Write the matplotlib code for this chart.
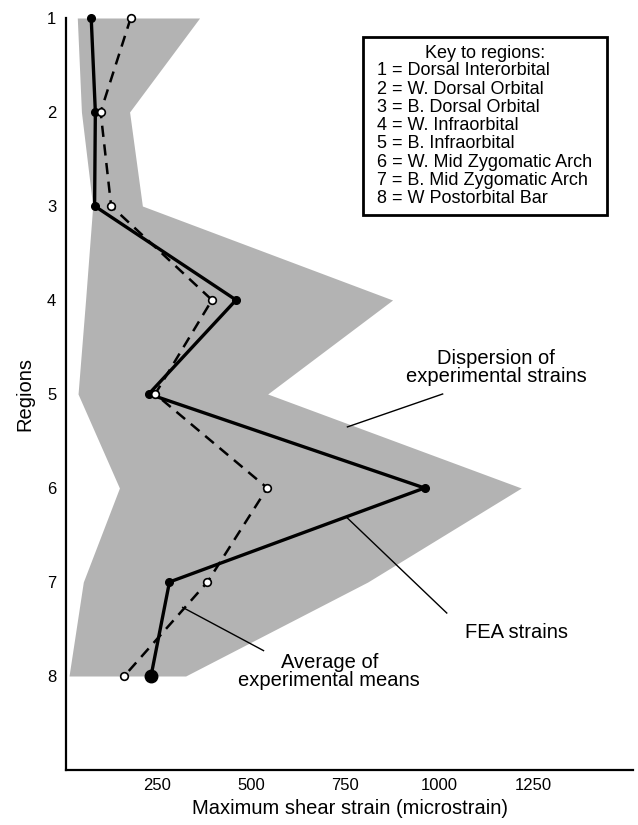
import matplotlib
matplotlib.use("Agg")
import matplotlib.pyplot as plt
from matplotlib.patches import Rectangle

plt.rcParams["font.family"] = ["Liberation Sans", "DejaVu Sans"]

regions = [1, 2, 3, 4, 5, 6, 7, 8]
fea = [75, 86, 84, 460, 228, 961, 283, 234]
avg_means = [180, 100, 128, 396, 245, 543, 384, 163]
disp_lo = [38, 49, 79, 60, 40, 150, 54, 16]
disp_hi = [363, 177, 211, 876, 544, 1218, 810, 326]
xticks = [250, 500, 750, 1000, 1250]
key_title = "Key to regions:"
key_lines = ["1 = Dorsal Interorbital", "2 = W. Dorsal Orbital", "3 = B. Dorsal Orbital",
             "4 = W. Infraorbital", "5 = B. Infraorbital", "6 = W. Mid Zygomatic Arch",
             "7 = B. Mid Zygomatic Arch", "8 = W Postorbital Bar"]

W, H = 638, 825
fig = plt.figure(figsize=(W / 100, H / 100), dpi=100)
ax = fig.add_axes([66 / W, 1 - 770 / H, 567 / W, 752 / H])


def px(x, y):
    # figure pixel (from top-left) -> figure fraction
    return x / W, 1 - y / H


ax.fill_betweenx(regions, disp_lo, disp_hi, color="#b3b3b3", lw=0, zorder=1)
ax.plot(fea, regions, "-", color="black", lw=2.4, marker="o", ms=5.5,
        mfc="black", mec="black", zorder=3, clip_on=False)
ax.plot(fea[-1], regions[-1], "o", color="black", ms=9, zorder=3, clip_on=False)
ax.plot(avg_means, regions, color="black", lw=1.8, ls=(0, (4.5, 3)), marker="o", ms=5.5,
        mfc="white", mec="black", mew=1.2, zorder=4, clip_on=False)

ax.set_xlim(8, 1515)
ax.set_ylim(9, 1)
ax.set_xticks(xticks)
ax.set_yticks(regions)
ax.tick_params(length=0, labelsize=12)
ax.tick_params(axis="x", pad=6)
ax.tick_params(axis="y", pad=7)
for s in ["top", "right"]:
    ax.spines[s].set_visible(False)
for s in ["left", "bottom"]:
    ax.spines[s].set_linewidth(1.6)
ax.set_ylabel("Regions", fontsize=14.5, labelpad=9)
ax.set_xlabel("Maximum shear strain (microstrain)", fontsize=14.5, labelpad=4)

# key box
x0, y0 = px(363, 215)
x1, y1 = px(607, 37)
fig.patches.append(Rectangle((x0, y0), x1 - x0, y1 - y0, transform=fig.transFigure,
                             fc="white", ec="black", lw=2, zorder=5))
fig.text(*px(485, 53), key_title, ha="center", va="center", fontsize=13, zorder=6)
for i, line in enumerate(key_lines):
    fig.text(*px(377, 70.7 + i * 18.3), line, ha="left", va="center", fontsize=13, zorder=6)

ax.text(1152, 4.72, "Dispersion of\nexperimental strains", ha="center", va="center",
        fontsize=14.5, linespacing=0.95)
ax.plot([1009, 756], [5.0, 5.35], color="black", lw=1)

ax.text(1205, 7.54, "FEA strains", ha="center", va="center", fontsize=14.5)
ax.plot([756, 1020], [6.32, 7.33], color="black", lw=1)

ax.text(708, 7.95, "Average of\nexperimental means", ha="center", va="center",
        fontsize=14.5, linespacing=0.95)
ax.plot([533, 318], [7.73, 7.27], color="black", lw=1)

fig.savefig("out.png", dpi=100)
